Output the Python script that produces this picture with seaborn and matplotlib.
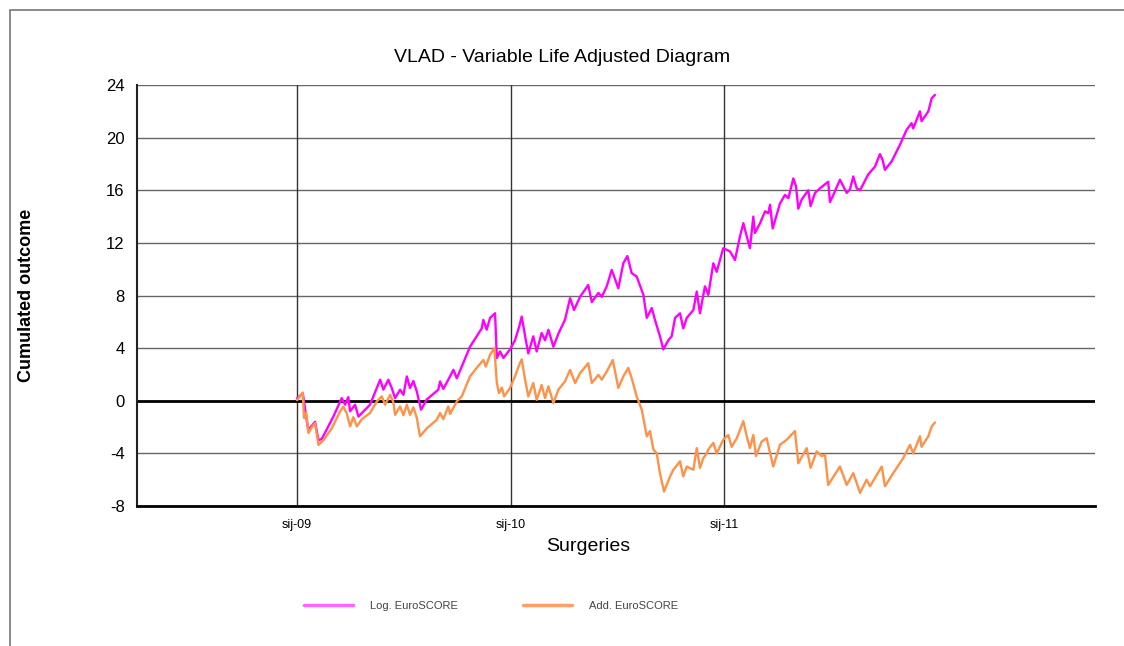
import numpy as np
import pandas as pd
import matplotlib
matplotlib.use('Agg')
import matplotlib.pyplot as plt
import seaborn as sns
from matplotlib.patches import Rectangle

# months since sij-09 (January 2009)
log_month = [0.0, 0.32, 0.62, 0.83, 1.01, 1.20, 1.39, 2.04, 2.51, 2.70, 2.88, 2.98, 3.26, 3.45,
             4.10, 4.67, 4.85, 5.13, 5.32, 5.51, 5.79, 5.98, 6.17, 6.35, 6.54, 6.73, 6.97, 7.29,
             7.94, 8.04, 8.22, 8.50, 8.79, 8.98, 9.26, 9.72, 10.10, 10.38, 10.47, 10.66, 10.85,
             11.13, 11.23, 11.41, 11.60, 11.97, 12.25, 12.48, 12.63, 12.82, 13.00, 13.28, 13.47,
             13.75, 13.94, 14.13, 14.41, 14.69, 15.06, 15.35, 15.57, 15.91, 16.37, 16.57, 16.94,
             17.13, 17.41, 17.69, 18.06, 18.34, 18.57, 18.81, 19.09, 19.47, 19.66, 19.94, 20.12,
             20.40, 20.59, 20.87, 21.06, 21.25, 21.53, 21.71, 21.91, 22.28, 22.47, 22.65, 22.93,
             23.12, 23.40, 23.59, 23.96, 24.34, 24.62, 24.90, 25.09, 25.28, 25.46, 25.65, 25.74,
             26.03, 26.31, 26.49, 26.59, 26.74, 27.15, 27.43, 27.62, 27.90, 28.05, 28.18, 28.37,
             28.74, 28.87, 29.12, 29.40, 29.86, 29.96, 30.15, 30.52, 30.71, 30.90, 31.08, 31.27,
             31.46, 31.65, 32.11, 32.49, 32.77, 32.92, 33.05, 33.43, 33.89, 34.27, 34.55, 34.64,
             35.02, 35.11, 35.49, 35.68, 35.86]
log_vlad = [0.2, 0.55, -2.2, -1.9, -1.6, -3.0, -2.9, -1.2, 0.2, -0.3, 0.28, -0.8, -0.3, -1.2,
            -0.3, 1.6, 0.85, 1.6, 0.97, 0.2, 0.84, 0.45, 1.85, 0.97, 1.5, 0.7, -0.68, 0.1,
            0.84, 1.47, 0.9, 1.6, 2.35, 1.7, 2.6, 4.1, 4.9, 5.5, 6.15, 5.4, 6.3,
            6.65, 3.25, 3.75, 3.25, 3.9, 4.6, 5.6, 6.4, 4.9, 3.6, 4.9, 3.75,
            5.15, 4.6, 5.4, 4.1, 5.1, 6.15, 7.8, 6.9, 7.9, 8.8, 7.5, 8.2,
            7.9, 8.7, 9.95, 8.55, 10.45, 11.0, 9.7, 9.45, 8.05, 6.3, 7.05, 6.15,
            4.9, 3.9, 4.6, 4.9, 6.3, 6.65, 5.5, 6.3, 6.9, 8.3, 6.65, 8.7,
            8.05, 10.45, 9.8, 11.6, 11.35, 10.7, 12.5, 13.5, 12.5, 11.6, 14.0, 12.75,
            13.5, 14.4, 14.25, 14.9, 13.1, 15.0, 15.65, 15.4, 16.9, 16.3, 14.6, 15.3,
            16.0, 14.8, 15.8, 16.15, 16.65, 15.1, 15.65, 16.8, 16.3, 15.8, 16.05, 17.05,
            16.15, 16.0, 17.2, 17.8, 18.75, 18.3, 17.55, 18.2, 19.45, 20.6, 21.1, 20.7,
            22.0, 21.25, 22.0, 23.0, 23.25]

add_month = [0.0, 0.32, 0.39, 0.51, 0.64, 0.83, 1.01, 1.20, 1.48, 1.95, 2.42, 2.60, 2.79, 2.98,
             3.16, 3.36, 3.64, 4.10, 4.48, 4.76, 4.95, 5.23, 5.41, 5.51, 5.79, 5.98, 6.17, 6.35,
             6.54, 6.73, 6.91, 7.29, 7.85, 8.04, 8.22, 8.50, 8.60, 8.98, 9.26, 9.72, 10.10, 10.47,
             10.61, 10.85, 11.09, 11.23, 11.35, 11.51, 11.64, 11.97, 12.25, 12.48, 12.63, 12.82,
             13.00, 13.28, 13.47, 13.75, 13.94, 14.13, 14.41, 14.69, 15.06, 15.35, 15.63, 15.91,
             16.37, 16.57, 16.94, 17.13, 17.41, 17.75, 18.06, 18.34, 18.62, 18.81, 19.09, 19.38,
             19.66, 19.84, 20.03, 20.22, 20.40, 20.63, 20.97, 21.15, 21.53, 21.71, 21.91, 22.28,
             22.47, 22.65, 22.84, 23.03, 23.12, 23.40, 23.59, 23.96, 24.24, 24.43, 24.72, 25.09,
             25.28, 25.46, 25.65, 25.80, 26.12, 26.40, 26.77, 27.15, 27.53, 27.99, 28.18, 28.65,
             28.87, 29.21, 29.49, 29.68, 29.86, 30.52, 30.90, 31.27, 31.65, 32.02, 32.21, 32.87,
             33.05, 33.52, 34.08, 34.46, 34.64, 35.02, 35.11, 35.49, 35.68, 35.86]
add_vlad = [0.05, 0.63, -1.3, -0.9, -2.45, -2.0, -1.7, -3.35, -3.0, -2.1, -0.8, -0.45, -0.95, -1.95,
            -1.25, -1.95, -1.4, -0.93, -0.05, 0.33, -0.3, 0.45, -0.1, -1.07, -0.43, -1.1, -0.3, -1.07,
            -0.5, -1.3, -2.7, -2.1, -1.45, -0.93, -1.4, -0.43, -1.0, -0.05, 0.33, 1.85, 2.5, 3.1,
            2.6, 3.5, 4.0, 1.35, 0.58, 1.0, 0.33, 0.97, 1.85, 2.7, 3.15, 1.6,
            0.33, 1.35, 0.07, 1.2, 0.2, 1.1, -0.18, 0.84, 1.47, 2.35, 1.35, 2.1,
            2.85, 1.35, 1.97, 1.6, 2.23, 3.1, 0.97, 1.85, 2.5, 1.72, 0.33, -0.68,
            -2.7, -2.3, -3.7, -4.0, -5.5, -6.9, -5.75, -5.25, -4.6, -5.75, -5.0, -5.25,
            -3.6, -5.1, -4.35, -4.0, -3.7, -3.2, -4.0, -2.96, -2.6, -3.5, -2.85, -1.55,
            -2.7, -3.6, -2.6, -4.2, -3.1, -2.85, -5.0, -3.35, -2.96, -2.3, -4.75, -3.6,
            -5.1, -3.85, -4.2, -4.1, -6.4, -5.0, -6.4, -5.5, -7.0, -6.0, -6.5, -5.0,
            -6.5, -5.5, -4.35, -3.35, -4.0, -2.7, -3.5, -2.7, -1.95, -1.65]

series_names = ['Log. EuroSCORE', 'Add. EuroSCORE']
tick_months = [0, 12, 24]
tick_labels = ['sij-09', 'sij-10', 'sij-11']
y_ticks = [-8, -4, 0, 4, 8, 12, 16, 20, 24]

df = pd.concat([
    pd.DataFrame({'month': log_month, 'vlad': log_vlad, 'score': series_names[0]}),
    pd.DataFrame({'month': add_month, 'vlad': add_vlad, 'score': series_names[1]}),
])

sns.set_theme(style='white')
plt.rcParams['font.family'] = ['Liberation Sans', 'DejaVu Sans']
plt.rcParams['text.color'] = 'black'
plt.rcParams['axes.labelcolor'] = 'black'
plt.rcParams['xtick.color'] = 'black'
plt.rcParams['ytick.color'] = 'black'

fig = plt.figure(figsize=(11.24, 6.46), dpi=100)
ax = fig.add_axes([0.1219, 0.2167, 0.8523, 0.6517])

# outer frame
fig.patches.append(Rectangle((10 / 1124, -0.5), 2.0, 0.5 + 1 - 10 / 646, transform=fig.transFigure,
                             fill=False, edgecolor='#777777', linewidth=1.2, zorder=0))

for y in y_ticks:
    if y != 0:
        ax.axhline(y, color='#666666', lw=1.0, zorder=1)
for m in tick_months:
    ax.axvline(m, color='#333333', lw=1.0, zorder=1)
ax.axhline(0, color='black', lw=2.0, zorder=2)

sns.lineplot(data=df, x='month', y='vlad', hue='score', palette=['#FF00FF', '#FF9148'],
             linewidth=1.7, ax=ax, legend=False, sort=False, estimator=None, zorder=3)

ax.set_xlim(-9.0, 44.86)
ax.set_ylim(-8, 24)
ax.set_yticks(y_ticks)
ax.set_yticklabels([str(v) for v in y_ticks], fontsize=12)
ax.set_xticks(tick_months)
ax.set_xticklabels(tick_labels, fontsize=9)
ax.tick_params(axis='y', length=0, pad=9)
ax.tick_params(axis='x', length=0, pad=9)

for s in ['top', 'right']:
    ax.spines[s].set_visible(False)
ax.spines['left'].set_color('#222222')
ax.spines['left'].set_linewidth(1.5)
ax.spines['bottom'].set_color('black')
ax.spines['bottom'].set_linewidth(2.0)

ax.set_xlabel('Surgeries', fontsize=14)
ax.xaxis.set_label_coords(0.471, -0.075)
ax.set_ylabel('Cumulated outcome', fontsize=13, fontweight='bold')
ax.yaxis.set_label_coords(-0.107, 0.5)

fig.text(0.5, 1 - 58 / 646, 'VLAD - Variable Life Adjusted Diagram', ha='center', va='center',
         fontsize=14)

handles = [plt.Line2D([], [], color='#FF66FF', lw=2.5), plt.Line2D([], [], color='#FFA066', lw=2.5)]
leg = fig.legend(handles, series_names, loc='center', bbox_to_anchor=(0.437, 1 - 606 / 646),
                 ncol=2, frameon=False, fontsize=8, handlelength=4.4, handletextpad=1.5,
                 columnspacing=5.9)
for t in leg.get_texts():
    t.set_color('#444444')

fig.savefig('out.png', dpi=100)
